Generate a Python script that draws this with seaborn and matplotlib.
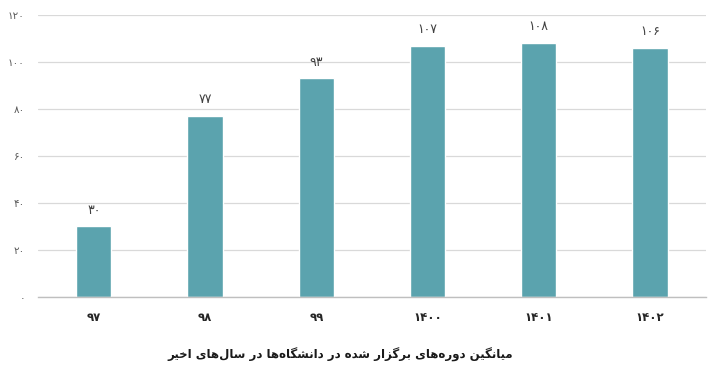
import matplotlib
matplotlib.use("Agg")
import matplotlib.pyplot as plt
import seaborn as sns
import pandas as pd

# ---- data ----
categories = ["۹۷", "۹۸", "۹۹", "۱۴۰۰", "۱۴۰۱", "۱۴۰۲"]
values = [30, 77, 93, 107, 108, 106]
value_labels = ["۳۰", "۷۷", "۹۳", "۱۰۷", "۱۰۸", "۱۰۶"]
y_ticks = [0, 20, 40, 60, 80, 100, 120]
y_tick_labels = ["۰", "۲۰", "۴۰", "۶۰", "۸۰", "۱۰۰", "۱۲۰"]
title_text = "میانگین دوره‌های برگزار شده در دانشگاه‌ها در سال‌های اخیر"

# ---- minimal Persian shaping (matplotlib has no complex text layout) ----
FORMS = {
    'ا': ('\uFE8D', '\uFE8E', None, None),
    'ب': ('\uFE8F', '\uFE90', '\uFE91', '\uFE92'),
    'خ': ('\uFEA5', '\uFEA6', '\uFEA7', '\uFEA8'),
    'د': ('\uFEA9', '\uFEAA', None, None),
    'ر': ('\uFEAD', '\uFEAE', None, None),
    'ز': ('\uFEAF', '\uFEB0', None, None),
    'س': ('\uFEB1', '\uFEB2', '\uFEB3', '\uFEB4'),
    'ش': ('\uFEB5', '\uFEB6', '\uFEB7', '\uFEB8'),
    'ل': ('\uFEDD', '\uFEDE', '\uFEDF', '\uFEE0'),
    'م': ('\uFEE1', '\uFEE2', '\uFEE3', '\uFEE4'),
    'ن': ('\uFEE5', '\uFEE6', '\uFEE7', '\uFEE8'),
    'ه': ('\uFEE9', '\uFEEA', '\uFEEB', '\uFEEC'),
    'و': ('\uFEED', '\uFEEE', None, None),
    'ی': ('\uFBFC', '\uFBFD', '\uFBFE', '\uFBFF'),
    'گ': ('\uFB92', '\uFB93', '\uFB94', '\uFB95'),
}


def dual(c):
    return c in FORMS and FORMS[c][2] is not None


def shape_rtl(s):
    out = []
    for i, c in enumerate(s):
        if c == '\u200c':
            continue
        if c not in FORMS:
            out.append(c)
            continue
        prev = s[i - 1] if i > 0 else ''
        nxt = s[i + 1] if i + 1 < len(s) else ''
        jp = dual(prev)
        jn = dual(c) and nxt in FORMS
        iso, fin, ini, med = FORMS[c]
        if jp and jn:
            g = med
        elif jp:
            g = fin
        elif jn:
            g = ini
        else:
            g = iso
        out.append(g)
    return ''.join(reversed(out))


df = pd.DataFrame({"year": categories, "value": values})

sns.set_theme(style="white")
plt.rcParams['font.family'] = ['DejaVu Sans']

fig = plt.figure(figsize=(7.2, 3.73), dpi=100)
ax = fig.add_axes([0.053, 0.2038, 0.927, 0.756])

sns.barplot(data=df, x="year", y="value", order=categories, color="#5ba3ae",
            saturation=1, width=0.315, ax=ax)

ax.set_ylim(0, 120)
ax.set_yticks(y_ticks)
ax.set_yticklabels(y_tick_labels, fontsize=7.5, color="#595959")
ax.yaxis.grid(True, color="#d9d9d9", linewidth=0.9)
ax.set_axisbelow(True)
ax.tick_params(axis='y', length=0, pad=9.5)
ax.tick_params(axis='x', length=0, pad=10, labelsize=8.5, labelcolor="#262626")
for lab in ax.get_xticklabels():
    lab.set_fontweight("bold")

for sp in ["top", "right", "left"]:
    ax.spines[sp].set_visible(False)
ax.spines["bottom"].set_color("#bfbfbf")
ax.spines["bottom"].set_linewidth(1.0)

ax.bar_label(ax.containers[0], labels=value_labels, padding=7,
             fontsize=9, color="#404040")

ax.set_xlabel("")
ax.set_ylabel("")

fig.text(0.472, 0.048, shape_rtl(title_text), ha="center", va="center",
         fontsize=8.5, fontweight="bold", color="#1a1a1a")

fig.savefig("out.png", dpi=100)
